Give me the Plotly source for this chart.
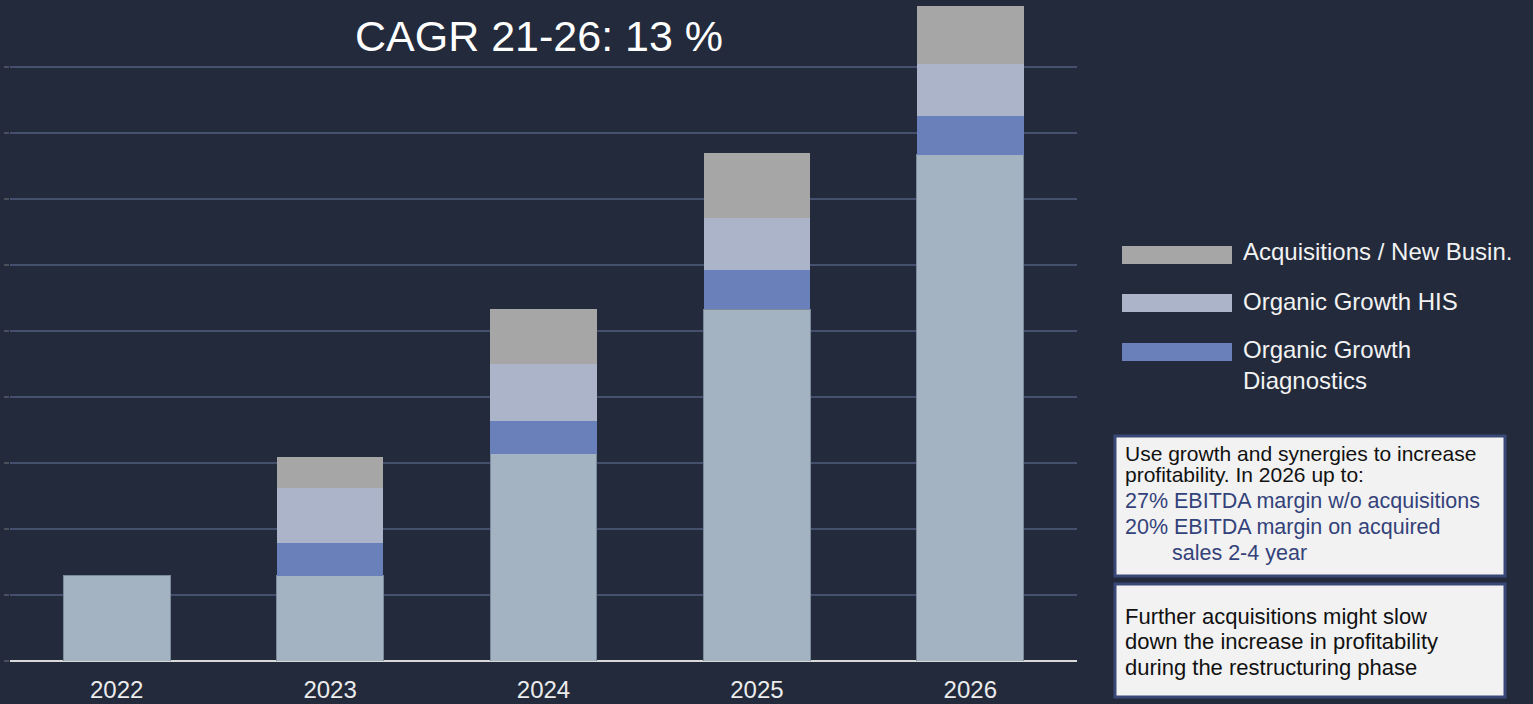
import plotly.graph_objects as go

years = ["2022", "2023", "2024", "2025", "2026"]
base_sales = [1.29, 1.29, 3.14, 5.33, 7.67]
organic_diag = [0, 0.50, 0.50, 0.59, 0.59]
organic_his = [0, 0.83, 0.86, 0.79, 0.79]
acquisitions = [0, 0.47, 0.83, 0.99, 0.87]

legend_names = ["Acquisitions / New Busin.", "Organic Growth HIS", "Organic Growth<br>Diagnostics"]
title_text = "CAGR 21-26: 13 %"
box1_lines = ["Use growth and synergies to increase", "profitability. In 2026 up to:"]
box1_blue = ["27% EBITDA margin w/o acquisitions", "20% EBITDA margin on acquired", "sales 2-4 year"]
box2_lines = ["Further acquisitions might slow", "down the increase in profitability", "during the restructuring phase"]

BG = "#222a3c"
C_BASE = "#a3b3c2"
C_DIAG = "#6a80bb"
C_HIS = "#abb4c9"
C_ACQ = "#a6a6a6"
FONT = "Liberation Sans, Arial, sans-serif"

fig = go.Figure()
fig.add_bar(x=years, y=base_sales, marker=dict(color=C_BASE, line=dict(color="#7a8a9b", width=1)), width=0.5, name="Base")
fig.add_bar(x=years, y=organic_diag, marker=dict(color=C_DIAG, line=dict(width=0)), width=0.5, name="Diag")
fig.add_bar(x=years, y=organic_his, marker=dict(color=C_HIS, line=dict(width=0)), width=0.5, name="HIS")
fig.add_bar(x=years, y=acquisitions, marker=dict(color=C_ACQ, line=dict(width=0)), width=0.5, name="Acq")

L, R, T, B = 10, 456, 1, 43
W, H = 1533, 704

fig.update_layout(
    barmode="stack",
    width=W, height=H,
    paper_bgcolor=BG, plot_bgcolor=BG,
    margin=dict(l=L, r=R, t=T, b=B, pad=0),
    showlegend=False,
    font=dict(family=FONT, color="#eeeeee"),
    xaxis=dict(type="category", range=[-0.5, 4.5], showgrid=False, tickfont=dict(size=24, color="#ececec"),
               ticks="", showline=False, ticklabelstandoff=12),
    yaxis=dict(range=[0, 10], tickvals=list(range(0, 10)), showticklabels=False, gridcolor="#45506e",
               gridwidth=2, zeroline=True, zerolinecolor="#d9d9d9", zerolinewidth=2,
               ticks="outside", ticklen=5, tickcolor="#4a4f5a", tickwidth=2),
)

def px(x):
    return (x - L) / (W - L - R)
def py(y):
    return (H - B - y) / (H - T - B)

fig.add_annotation(text=title_text, x=px(539), y=py(36), xref="paper", yref="paper", showarrow=False,
                   xanchor="center", yanchor="middle", font=dict(size=43, color="white"))

# legend
leg_colors = [C_ACQ, C_HIS, C_DIAG]
sw_y = [(246, 264), (294, 312), (343, 361)]
txt_y = [251, 301, 365]
for name, col, (y0, y1), ty in zip(legend_names, leg_colors, sw_y, txt_y):
    fig.add_shape(type="rect", xref="paper", yref="paper", x0=px(1122), x1=px(1232), y0=py(y1), y1=py(y0),
                  fillcolor=col, line=dict(width=0))
    fig.add_annotation(text=name, x=px(1241), y=py(ty), xref="paper", yref="paper", showarrow=False,
                       xanchor="left", yanchor="middle", align="left", font=dict(size=24, color="#f2f2f2"))

# text boxes
fig.add_shape(type="rect", xref="paper", yref="paper", x0=px(1115), x1=px(1505), y0=py(576), y1=py(436),
              fillcolor="#f2f2f2", line=dict(color="#3a4878", width=3))
fig.add_shape(type="rect", xref="paper", yref="paper", x0=px(1115), x1=px(1505), y0=py(697), y1=py(584),
              fillcolor="#f2f2f2", line=dict(color="#3a4878", width=3))

for t, yy in zip(box1_lines, [453, 474]):
    fig.add_annotation(text=t, x=px(1123), y=py(yy), xref="paper", yref="paper", showarrow=False,
                       xanchor="left", yanchor="middle", font=dict(size=21, color="#111111"))
for t, yy, xx in zip(box1_blue, [501, 527, 553], [1123, 1123, 1170]):
    fig.add_annotation(text=t, x=px(xx), y=py(yy), xref="paper", yref="paper", showarrow=False,
                       xanchor="left", yanchor="middle", font=dict(size=21.5, color="#34427a"))
for t, yy in zip(box2_lines, [616, 641, 667]):
    fig.add_annotation(text=t, x=px(1123), y=py(yy), xref="paper", yref="paper", showarrow=False,
                       xanchor="left", yanchor="middle", font=dict(size=22, color="#111111"))

fig.write_html("out.html", config={"displayModeBar": False},
               post_script="document.body.style.margin='0px';document.body.style.background='%s';" % BG)
